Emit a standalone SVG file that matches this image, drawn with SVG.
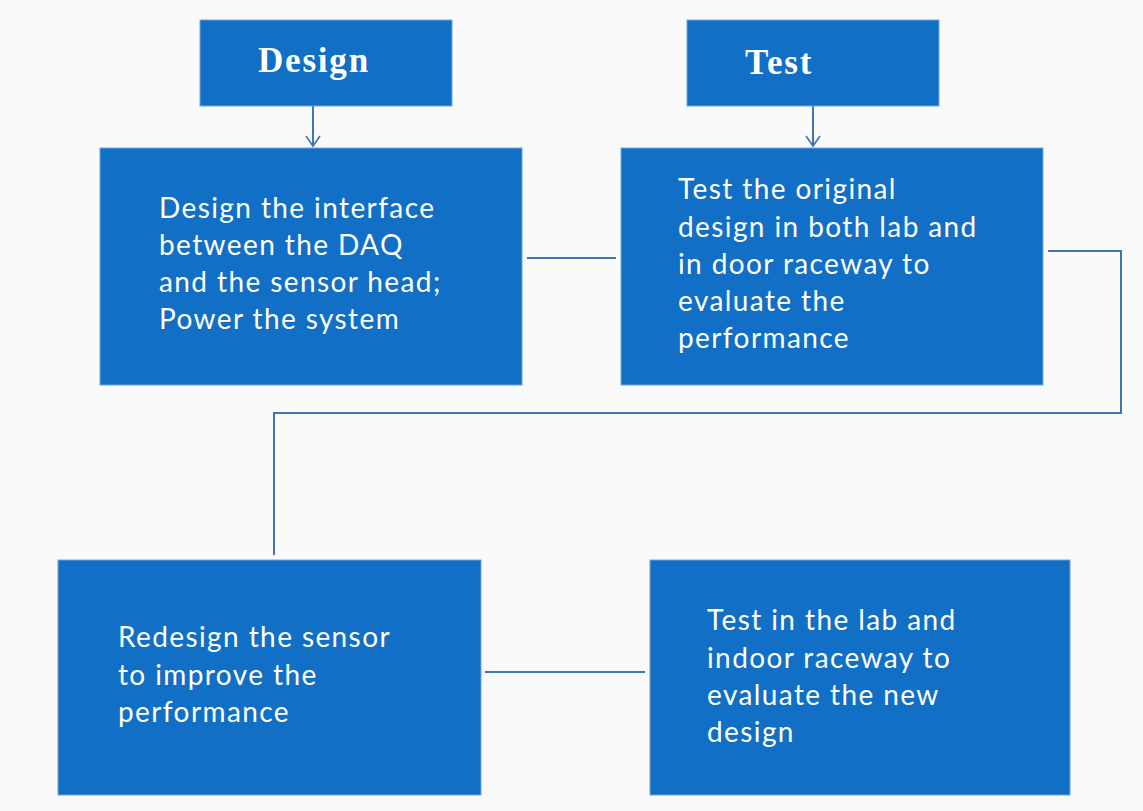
<svg xmlns="http://www.w3.org/2000/svg" width="1143" height="811" viewBox="0 0 1143 811">
<defs>
<style>
.box{fill:#116fc5;stroke:#6fa6dc;stroke-width:1}
.hd{font-family:"Liberation Serif",serif;font-weight:bold;font-size:35px;fill:#fff;letter-spacing:1.8px}
.tx{font-family:Lato,"Open Sans",sans-serif;font-size:28px;fill:#fff;letter-spacing:1.4px}
.ln{fill:none;stroke:#3f74b5;stroke-width:2}
</style>
<marker id="ah" viewBox="0 0 14 16" refX="12" refY="8" markerWidth="14" markerHeight="16" markerUnits="userSpaceOnUse" orient="auto">
<path d="M2,1 L12,8 L2,15" fill="none" stroke="#3f74b5" stroke-width="1.6"/>
</marker>
</defs>
<rect width="1143" height="811" fill="#fafafa"/>
<g id="connectors">
<line class="ln" x1="313" y1="106" x2="313" y2="146" marker-end="url(#ah)"/>
<line class="ln" x1="813" y1="106" x2="813" y2="146" marker-end="url(#ah)"/>
<line class="ln" x1="527" y1="258" x2="616" y2="258"/>
<polyline class="ln" points="1048,251 1121,251 1121,413 274,413 274,555"/>
<line class="ln" x1="485" y1="672" x2="645" y2="672"/>
</g>
<g id="design-header">
<rect class="box" x="200" y="20" width="252" height="86"/>
<text class="hd" x="258" y="72">Design</text>
</g>
<g id="test-header">
<rect class="box" x="687" y="20" width="252" height="86"/>
<text class="hd" x="745" y="74">Test</text>
</g>
<g id="design-box">
<rect class="box" x="100" y="148" width="422" height="237"/>
<text class="tx" x="159" y="218">Design the interface</text>
<text class="tx" x="159" y="255">between the DAQ</text>
<text class="tx" x="159" y="292">and the sensor head;</text>
<text class="tx" x="159" y="329">Power the system</text>
</g>
<g id="test-box">
<rect class="box" x="621" y="148" width="422" height="237"/>
<text class="tx" x="678" y="199">Test the original</text>
<text class="tx" x="678" y="237">design in both lab and</text>
<text class="tx" x="678" y="274">in door raceway to</text>
<text class="tx" x="678" y="311">evaluate the</text>
<text class="tx" x="678" y="348">performance</text>
</g>
<g id="redesign-box">
<rect class="box" x="58" y="560" width="423" height="235"/>
<text class="tx" x="118" y="647">Redesign the sensor</text>
<text class="tx" x="118" y="685">to improve the</text>
<text class="tx" x="118" y="722">performance</text>
</g>
<g id="test2-box">
<rect class="box" x="650" y="560" width="420" height="235"/>
<text class="tx" x="707" y="630">Test in the lab and</text>
<text class="tx" x="707" y="668">indoor raceway to</text>
<text class="tx" x="707" y="705">evaluate the new</text>
<text class="tx" x="707" y="742">design</text>
</g>
</svg>
